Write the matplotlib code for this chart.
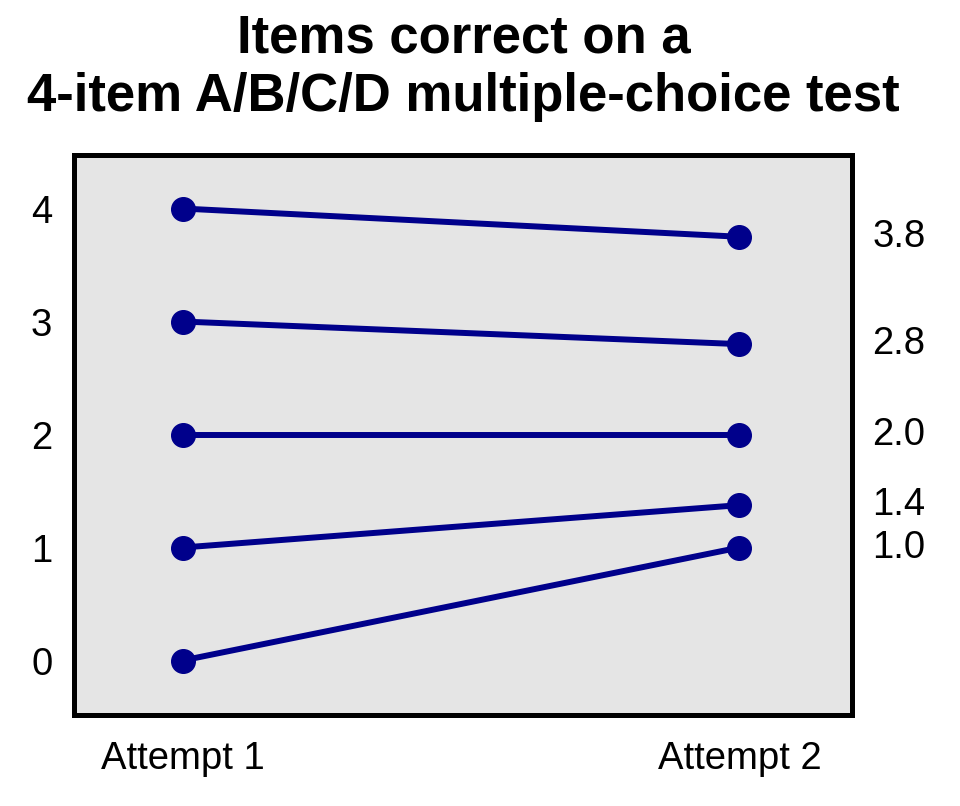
import numpy as np
import matplotlib.pyplot as plt

plt.rcParams['font.family'] = ['Liberation Sans', 'DejaVu Sans']

# data
attempt_labels = ['Attempt 1', 'Attempt 2']
attempt1 = [4, 3, 2, 1, 0]
attempt2 = [3.75, 2.8, 2.0, 1.375, 1.0]

line_color = '#00008B'

fig = plt.figure(figsize=(9.6, 8.06), dpi=100)
ax = fig.add_axes([0.0776, 0.1135, 0.8104, 0.6948])
ax.set_facecolor('#E5E5E5')

for a, b in zip(attempt1, attempt2):
  ax.plot([1, 2], [a, b], color=line_color, lw=4.3, solid_capstyle='butt', zorder=2)
  ax.plot([1, 2], [a, b], 'o', color=line_color, ms=17, zorder=3)
  ax.text(2.239, b, f"{b:.1f}", fontsize=27.5, va='center', ha='left', clip_on=False)

ax.set_xlim(0.806, 2.203)
ax.set_ylim(-0.478, 4.478)
ax.set_xticks([1, 2])
ax.set_xticklabels(attempt_labels, fontsize=27.5)
ax.set_yticks([0, 1, 2, 3, 4])
ax.set_yticklabels(['0', '1', '2', '3', '4'], fontsize=27.5)
ax.tick_params(axis='both', length=0)
ax.tick_params(axis='y', pad=16)
ax.tick_params(axis='x', pad=19)
for s in ax.spines.values():
  s.set_linewidth(3.6)
  s.set_color('black')

# title centred over the plot box, not the figure
fig.suptitle('Items correct on a\n4-item A/B/C/D multiple-choice test',
             x=0.483, fontsize=38, fontweight='bold', y=0.983, linespacing=1.22)

fig.savefig('out.png', dpi=100)
